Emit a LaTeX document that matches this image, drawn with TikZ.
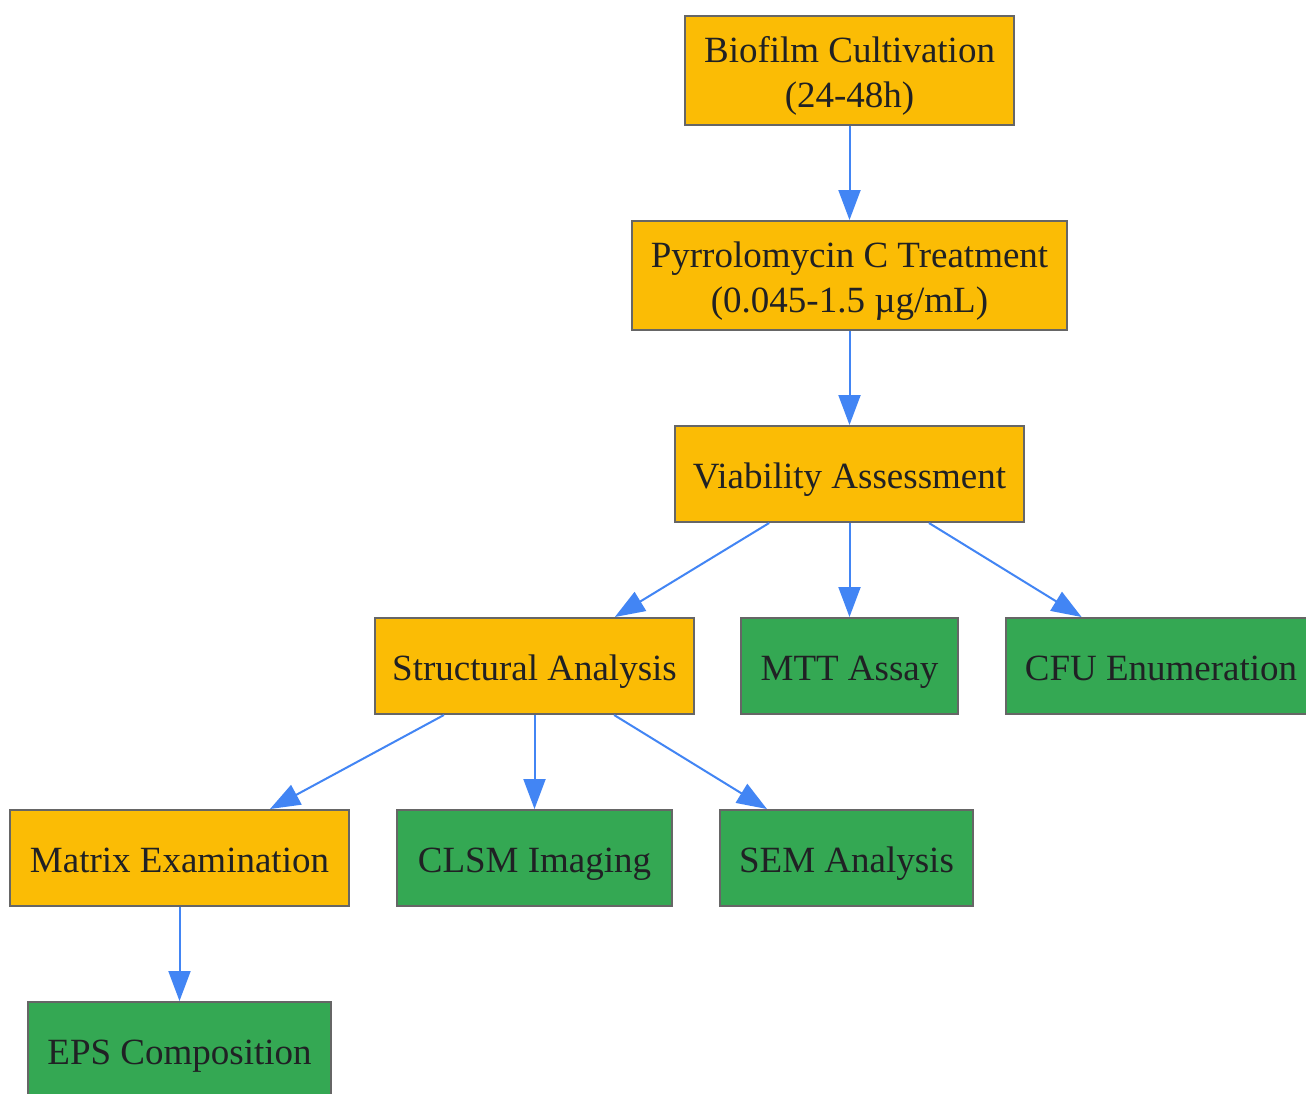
\documentclass[tikz,border=0pt]{standalone}
\usepackage{fontspec}
\setmainfont{Liberation Serif}
\usetikzlibrary{arrows.meta}
\definecolor{ybox}{HTML}{FBBC05}
\definecolor{gbox}{HTML}{34A853}
\definecolor{bord}{HTML}{666666}
\definecolor{txt}{HTML}{202124}
\definecolor{arr}{HTML}{4285F4}
\tikzset{
  basebox/.style={draw=bord, line width=2pt, inner sep=0pt, text=txt, align=center,
    font=\fontsize{37}{45}\selectfont, text height=33pt, text depth=4pt},
  twoline/.style={text height=78pt},
  yellowbox/.style={basebox, fill=ybox},
  greenbox/.style={basebox, fill=gbox},
  conn/.style={draw=arr, line width=2pt, -{Triangle[length=30pt,width=22pt]}},
}
\begin{document}
\begin{tikzpicture}[x=1pt,y=-1pt]
\useasboundingbox (0,0) rectangle (1306,1093);
\clip (0,0) rectangle (1306,1093);
\fill[white] (0,0) rectangle (1306,1093);
\node[yellowbox, twoline, minimum width=329pt, minimum height=109pt] (bio) at (849.5,70.5) {Biofilm Cultivation\\(24-48h)};
\node[yellowbox, twoline, minimum width=435pt, minimum height=109pt] (pyr) at (849.5,275.5) {Pyrrolomycin C Treatment\\(0.045-1.5 µg/mL)};
\node[yellowbox, minimum width=349pt, minimum height=96pt] (via) at (849.5,474) {Viability Assessment};
\node[yellowbox, minimum width=319pt, minimum height=96pt] (str) at (534.5,666) {Structural Analysis};
\node[greenbox, minimum width=217pt, minimum height=96pt] (mtt) at (849.5,666) {MTT Assay};
\node[greenbox, minimum width=310pt, minimum height=96pt] (cfu) at (1161,666) {CFU Enumeration};
\node[yellowbox, minimum width=339pt, minimum height=96pt] (mat) at (179.5,858) {Matrix Examination};
\node[greenbox, minimum width=275pt, minimum height=96pt] (cls) at (534.5,858) {CLSM Imaging};
\node[greenbox, minimum width=253pt, minimum height=96pt] (sem) at (846.5,858) {SEM Analysis};
\node[greenbox, minimum width=303pt, minimum height=96pt] (eps) at (179.5,1050) {EPS Composition};
\draw[conn] (bio) -- (pyr);
\draw[conn] (pyr) -- (via);
\draw[conn] (via) -- (str);
\draw[conn] (via) -- (mtt);
\draw[conn] (via) -- (cfu);
\draw[conn] (str) -- (mat);
\draw[conn] (str) -- (cls);
\draw[conn] (str) -- (sem);
\draw[conn] (mat) -- (eps);
\end{tikzpicture}
\end{document}
